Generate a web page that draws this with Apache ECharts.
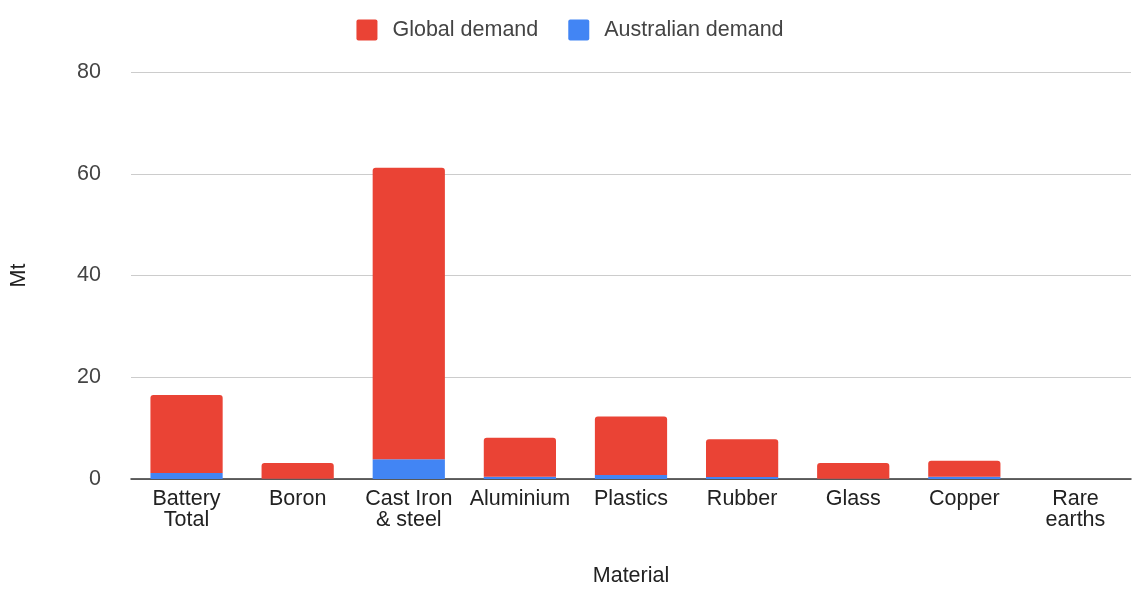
<!DOCTYPE html>
<html>
<head>
<meta charset="utf-8">
<script src="https://cdn.jsdelivr.net/npm/echarts@6/dist/echarts.min.js"></script>
<style>
  html, body { margin: 0; padding: 0; background: #fff; }
  #chart { width: 1140px; height: 592px; }
</style>
</head>
<body>
<div id="chart"></div>
<script>
var materials = ['Battery\nTotal', 'Boron', 'Cast Iron\n& steel', 'Aluminium', 'Plastics', 'Rubber', 'Glass', 'Copper', 'Rare\nearths'];
var australian = [1.2, 0.05, 3.9, 0.45, 0.8, 0.4, 0.05, 0.45, 0];
var global = [15.3, 3.1, 57.3, 7.65, 11.5, 7.4, 3.1, 3.15, 0];
var yTicks = [0, 20, 40, 60, 80];

var font = '"Liberation Sans", Arial, sans-serif';
var fs = 21.5;
var chart = echarts.init(document.getElementById('chart'));

var option = {
  animation: false,
  textStyle: { fontFamily: font },
  legend: {
    top: 14,
    left: 'center',
    itemWidth: 21,
    itemHeight: 21,
    itemGap: 30,
    icon: 'path://M2,0 L19,0 Q21,0 21,2 L21,19 Q21,21 19,21 L2,21 Q0,21 0,19 L0,2 Q0,0 2,0 Z',
    textStyle: { fontSize: fs, color: '#444', padding: [0, 0, 0, 10] },
    data: ['Global demand', 'Australian demand']
  },
  grid: { left: 131, right: 9, top: 72, bottom: 106 },
  xAxis: {
    type: 'category',
    data: materials,
    name: 'Material',
    nameLocation: 'middle',
    nameGap: 86,
    nameTextStyle: { fontSize: fs, color: '#222' },
    axisTick: { show: false },
    axisLine: { lineStyle: { color: '#333', width: 1.5 } },
    axisLabel: { fontSize: fs, color: '#222', lineHeight: 21, margin: 10, interval: 0 }
  },
  yAxis: {
    type: 'value',
    min: yTicks[0],
    max: yTicks[yTicks.length - 1],
    interval: 20,
    name: 'Mt',
    nameLocation: 'middle',
    nameGap: 101,
    nameTextStyle: { fontSize: fs, color: '#222' },
    axisLabel: { fontSize: fs, color: '#444', margin: 30 },
    splitLine: { lineStyle: { color: '#ccc' } }
  },
  series: [
    {
      name: 'Australian demand',
      type: 'bar',
      stack: 'demand',
      barWidth: '65%',
      itemStyle: { color: '#4285f4' },
      data: australian
    },
    {
      name: 'Global demand',
      type: 'bar',
      stack: 'demand',
      itemStyle: { color: '#ea4335', borderRadius: [3, 3, 0, 0] },
      data: global
    }
  ]
};
chart.setOption(option);
</script>
</body>
</html>
